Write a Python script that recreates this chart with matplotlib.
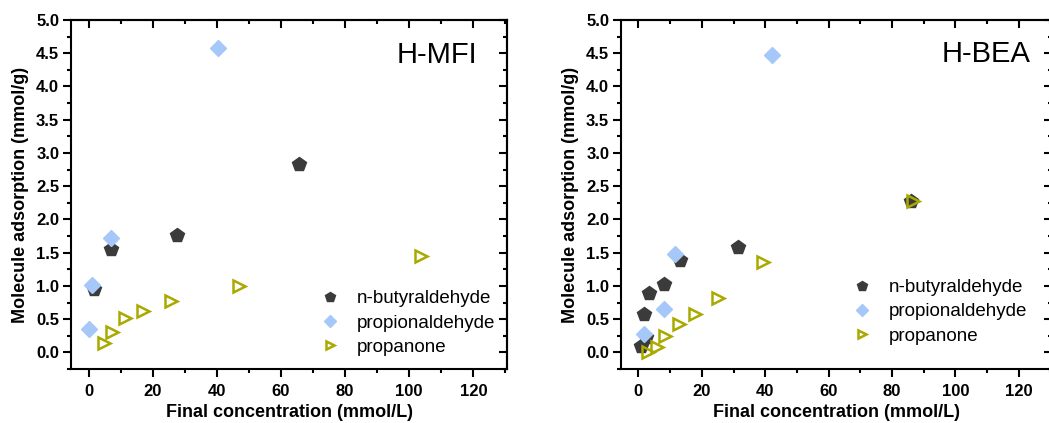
import matplotlib
matplotlib.use("Agg")
import matplotlib.pyplot as plt
from matplotlib.ticker import MultipleLocator

plt.rcParams['font.family'] = ['Liberation Sans', 'DejaVu Sans']

series_names = ["n-butyraldehyde", "propionaldehyde", "propanone"]

# H-MFI
mfi_but_x = [1.7, 7.0, 27.7, 65.6]
mfi_but_y = [0.95, 1.55, 1.77, 2.83]
mfi_pro_x = [0.0, 1.2, 7.0, 40.4]
mfi_pro_y = [0.35, 1.01, 1.72, 4.58]
mfi_ket_x = [4.8, 7.3, 11.2, 16.9, 25.8, 46.8, 103.6]
mfi_ket_y = [0.14, 0.31, 0.51, 0.63, 0.78, 1.00, 1.45]

# H-BEA
bea_but_x = [0.7, 2.5, 1.7, 3.2, 8.2, 13.2, 31.3, 86.1]
bea_but_y = [0.10, 0.23, 0.57, 0.89, 1.03, 1.39, 1.58, 2.28]
bea_pro_x = [1.7, 8.0, 11.5, 42.2]
bea_pro_y = [0.27, 0.65, 1.48, 4.47]
bea_ket_x = [3.1, 5.8, 8.4, 12.9, 18.0, 25.1, 39.3, 86.7]
bea_ket_y = [0.00, 0.08, 0.25, 0.43, 0.58, 0.82, 1.36, 2.27]

x_label = "Final concentration (mmol/L)"
y_label = "Molecule adsorption (mmol/g)"
panel_titles = ["H-MFI", "H-BEA"]

c_but = "#3b3b3b"
c_pro = "#a6c8f8"
c_ket = "#a9a900"

W, H = 1049, 423
fig = plt.figure(figsize=(W / 100, H / 100), dpi=100)

def px_axes(l, r, t, b):
    return fig.add_axes([l / W, 1 - b / H, (r - l) / W, (b - t) / H])

ax1 = px_axes(71, 507, 20, 369)
ax2 = px_axes(621, 1052, 20, 369)

panels = [
    (ax1, mfi_but_x, mfi_but_y, mfi_pro_x, mfi_pro_y, mfi_ket_x, mfi_ket_y),
    (ax2, bea_but_x, bea_but_y, bea_pro_x, bea_pro_y, bea_ket_x, bea_ket_y),
]
title_pos = [(0.931, 0.900), (0.951, 0.903)]
legend_pos = [(0.569, 0.226), (0.534, 0.258)]

lw = 1.5
for i, (ax, bx, by, px_, py, kx, ky) in enumerate(panels):
    ax.plot(bx, by, linestyle='none', marker='p', ms=10, color=c_but,
            markeredgecolor=c_but, label=series_names[0], zorder=3)
    ax.plot(px_, py, linestyle='none', marker='D', ms=8, color=c_pro,
            markeredgecolor=c_pro, label=series_names[1], zorder=4)
    ax.plot(kx, ky, linestyle='none', marker='>', ms=8, markerfacecolor='none',
            markeredgecolor=c_ket, markeredgewidth=1.8, label=series_names[2], zorder=5)
    ax.set_xlim(-5.5, 130.5)
    ax.set_ylim(-0.25, 5.0)
    ax.xaxis.set_major_locator(MultipleLocator(20))
    ax.xaxis.set_minor_locator(MultipleLocator(10))
    ax.yaxis.set_minor_locator(MultipleLocator(0.25))
    ax.set_yticks([0.0, 0.5, 1.0, 1.5, 2.0, 2.5, 3.0, 3.5, 4.0, 4.5, 5.0])
    ax.set_yticklabels([f"{v:.1f}" for v in ax.get_yticks()])
    for s in ax.spines.values():
        s.set_linewidth(lw)
    ax.tick_params(which='major', direction='out', length=5.5, width=lw,
                   labelsize=12)
    ax.tick_params(axis='x', which='major', pad=5)
    ax.tick_params(axis='y', which='major', pad=3)
    ax.tick_params(which='minor', direction='out', length=3, width=lw)
    for lab in ax.get_xticklabels() + ax.get_yticklabels():
        lab.set_fontweight('bold')
    ax.set_xlabel(x_label, fontsize=13, fontweight='bold', labelpad=4)
    ax.set_ylabel(y_label, fontsize=13, fontweight='bold', labelpad=5)

    top = ax.secondary_xaxis('top')
    top.xaxis.set_major_locator(MultipleLocator(20))
    top.xaxis.set_minor_locator(MultipleLocator(10))
    top.tick_params(which='major', direction='in', length=5.5, width=lw, labeltop=False)
    top.tick_params(which='minor', direction='in', length=3, width=lw)
    top.spines['top'].set_linewidth(lw)
    right = ax.secondary_yaxis('right')
    right.yaxis.set_major_locator(MultipleLocator(0.5))
    right.yaxis.set_minor_locator(MultipleLocator(0.25))
    right.tick_params(which='major', direction='in', length=5.5, width=lw, labelright=False)
    right.tick_params(which='minor', direction='in', length=3, width=lw)
    right.spines['right'].set_linewidth(lw)

    ax.text(title_pos[i][0], title_pos[i][1], panel_titles[i], transform=ax.transAxes,
            ha='right', va='center', fontsize=21)

    ax.legend(loc='upper left', bbox_to_anchor=legend_pos[i], frameon=False,
              fontsize=13.5, handletextpad=0.8, labelspacing=0.38,
              markerscale=0.75, handlelength=1.2, borderpad=0, borderaxespad=0)

fig.savefig("out.png", dpi=100)
